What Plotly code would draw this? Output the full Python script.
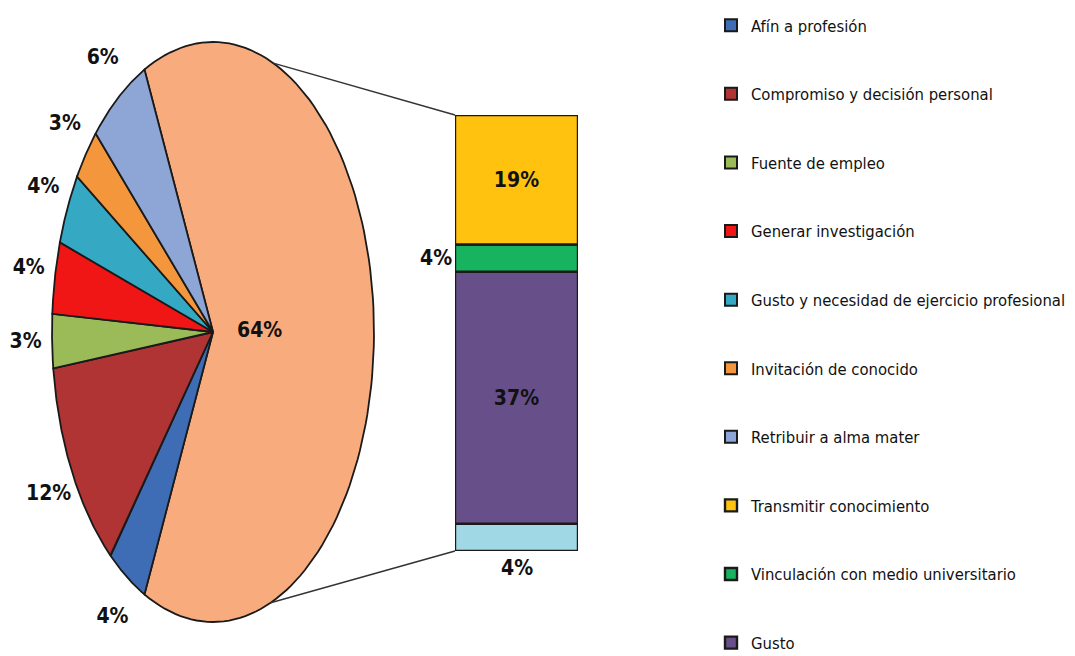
import numpy as np
import plotly.graph_objects as go

# ---------------- data ----------------
pie_labels = ["Afín a profesión", "Compromiso y decisión personal", "Fuente de empleo",
              "Generar investigación", "Gusto y necesidad de ejercicio profesional",
              "Invitación de conocido", "Retribuir a alma mater"]
pie_values = [4, 12, 3, 4, 4, 3, 6]
pie_colors = ["#3E6DB5", "#B03433", "#9BBB59", "#F01616", "#35A8C4", "#F3963C", "#8EA6D6"]

# segments of the secondary bar, bottom to top
bar_labels = ["Otros", "Gusto", "Vinculación con medio universitario", "Transmitir conocimiento"]
bar_values = [4, 37, 4, 19]
bar_colors = ["#A0D8E6", "#675089", "#17B35E", "#FFC20E"]
bar_in_legend = [False, True, True, True]

other_value = sum(bar_values)
other_color = "#F8AC7E"

legend_order = pie_labels + ["Transmitir conocimiento", "Vinculación con medio universitario", "Gusto"]

# ---------------- layout parameters ----------------
W, H = 1075, 656
OFF = 8                                       # page body margin in the screenshot
cx, cy, rx, ry = 213, 332, 161, 290          # elliptical pie (screen pixels)
bar_left, bar_right, bar_top, bar_bottom = 455, 578, 115, 551
FONT = "DejaVu Sans Condensed, Liberation Sans Narrow, sans-serif"
LINE = "#1a1a1a"
LABEL_FONT = dict(family=FONT, size=21, color="#111", weight="bold")
LEG_SIZE = 16.5

fig = go.Figure()

total = sum(pie_values) + other_value
half = other_value / total * 180.0


def wedge(a0, a1):
    t = np.radians(np.linspace(a0, a1, 120))
    xs = np.concatenate([[cx], cx + rx * np.cos(t), [cx]])
    ys = np.concatenate([[cy], cy - ry * np.sin(t), [cy]])
    return xs, ys


def ell_point(a, f=1.0):
    t = np.radians(a)
    return cx + f * rx * np.cos(t), cy - f * ry * np.sin(t)


# big "other" slice, centred on the right
xs, ys = wedge(-half, half)
fig.add_trace(go.Scatter(x=xs, y=ys, mode="lines", fill="toself", fillcolor=other_color,
                         line=dict(color=LINE, width=1.8), showlegend=False, hoverinfo="skip"))
lx, ly = ell_point(0, 0.29)
lab_x, lab_y, lab_t = [lx], [ly], [f"{other_value}%"]

# small slices, clockwise from the bottom edge of the big slice
start = -half
for name, v, c in zip(pie_labels, pie_values, pie_colors):
    span = v / total * 360.0
    a0, a1 = start - span, start
    xs, ys = wedge(a0, a1)
    fig.add_trace(go.Scatter(x=xs, y=ys, mode="lines", fill="toself", fillcolor=c,
                             line=dict(color=LINE, width=1.8), showlegend=False,
                             legendgroup=name, hoverinfo="skip"))
    mx, my = ell_point((a0 + a1) / 2, 1.165)
    lab_x.append(mx); lab_y.append(my); lab_t.append(f"{v}%")
    start = a0

fig.add_trace(go.Scatter(x=lab_x, y=lab_y, text=lab_t, mode="text", showlegend=False,
                         cliponaxis=False, textfont=LABEL_FONT, hoverinfo="skip"))

# connector lines pie -> bar
p_top = ell_point(68)
p_bot = ell_point(-69)
fig.add_trace(go.Scatter(x=[p_top[0], bar_left, None, p_bot[0], bar_left],
                         y=[p_top[1], bar_top, None, p_bot[1], bar_bottom],
                         mode="lines", line=dict(color="#333", width=1.4),
                         showlegend=False, hoverinfo="skip"))

# secondary stacked bar
base = 0
for name, v, c, inleg in zip(bar_labels, bar_values, bar_colors, bar_in_legend):
    inside = v >= 10
    fig.add_trace(go.Bar(x=[0], y=[v], base=[base], name=name,
                         marker=dict(color=c, line=dict(color=LINE, width=2.4)),
                         width=1, xaxis="x2", yaxis="y2", showlegend=inleg, legendgroup=name,
                         legendrank=legend_order.index(name) + 1 if inleg else 1000,
                         text=[f"{v}%"] if inside else None, textposition="inside",
                         insidetextanchor="middle", textangle=0,
                         textfont=LABEL_FONT, hoverinfo="skip"))
    base += v

# labels for thin bar segments
b = 0
for name, v in zip(bar_labels, bar_values):
    if v < 10:
        if b == 0:
            fig.add_annotation(x=0, y=0, xref="x2", yref="y2", text=f"{v}%", showarrow=False,
                               yanchor="top", yshift=-3, font=LABEL_FONT)
        else:
            fig.add_annotation(x=-0.5, y=b + v / 2, xref="x2", yref="y2", text=f"{v}%", showarrow=False,
                               xanchor="right", xshift=-1, font=LABEL_FONT)
    b += v

# legend entries for pie slices
for name, c in zip(pie_labels, pie_colors):
    fig.add_trace(go.Bar(x=[None], y=[None], name=name, xaxis="x2", yaxis="y2",
                         marker=dict(color=c, line=dict(color=LINE, width=2)),
                         legendgroup=name, legendrank=legend_order.index(name) + 1))

fig.update_layout(
    width=W, height=H, margin=dict(l=0, r=0, t=0, b=0, autoexpand=False),
    paper_bgcolor="white", plot_bgcolor="rgba(0,0,0,0)",
    barmode="overlay",
    xaxis=dict(range=[OFF, W + OFF], domain=[0, 1], visible=False, fixedrange=True),
    yaxis=dict(range=[H + OFF, OFF], domain=[0, 1], visible=False, fixedrange=True),
    xaxis2=dict(range=[-0.5, 0.5], domain=[(bar_left - OFF) / W, (bar_right - OFF) / W], anchor="y2",
                visible=False, fixedrange=True),
    yaxis2=dict(range=[0, other_value], domain=[1 - (bar_bottom - OFF) / H, 1 - (bar_top - OFF) / H],
                anchor="x2", visible=False, fixedrange=True),
    showlegend=True,
    legend=dict(xref="container", yref="container", x=703 / W, y=1 + 2 / H, xanchor="left", yanchor="top",
                traceorder="grouped", tracegroupgap=68.6 - (LEG_SIZE * 1.3 + 3), maxheight=H,
                font=dict(family=FONT, size=LEG_SIZE, color="#111"),
                bgcolor="rgba(0,0,0,0)", itemclick=False, itemdoubleclick=False),
)

fig.write_html("out.html")
